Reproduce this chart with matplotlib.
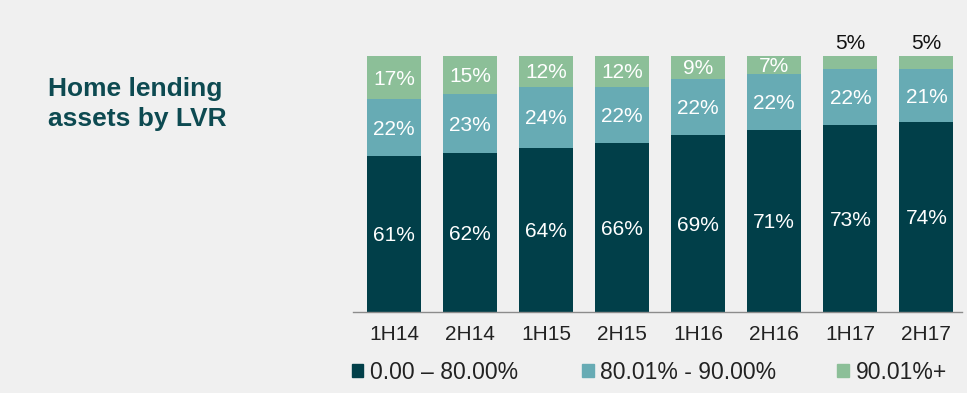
import matplotlib.pyplot as plt
from matplotlib.patches import Rectangle
import numpy as np

periods = ['1H14', '2H14', '1H15', '2H15', '1H16', '2H16', '1H17', '2H17']
lvr_0_80 = [61, 62, 64, 66, 69, 71, 73, 74]
lvr_80_90 = [22, 23, 24, 22, 22, 22, 22, 21]
lvr_90_plus = [17, 15, 12, 12, 9, 7, 5, 5]
series_names = ['0.00 \u2013 80.00%', '80.01% - 90.00%', '90.01%+']

BG = '#f0f0f0'
COLORS = ['#013f49', '#67abb4', '#8cbf98']
LEGEND_X = [0.364, 0.602, 0.866]   # left edge of each legend entry (fig fraction)
plt.rcParams['font.family'] = ['Liberation Sans', 'DejaVu Sans']

fig = plt.figure(figsize=(9.67, 3.93), dpi=100, facecolor=BG)
ax = fig.add_axes([0.365, 0.206, 0.630, 0.652], facecolor=BG)

x = np.arange(len(periods))
width = 0.71
bottom = np.zeros(len(periods))
for vals, col in zip([lvr_0_80, lvr_80_90, lvr_90_plus], COLORS):
    vals = np.array(vals)
    ax.bar(x, vals, width, bottom=bottom, color=col, edgecolor='none')
    for i in range(len(periods)):
        if vals[i] >= 7:
            ax.text(x[i], bottom[i] + vals[i] / 2.0 - 0.6, '%d%%' % vals[i],
                    ha='center', va='center', color='white', fontsize=15)
        else:
            # small slices get their label above the bar
            ax.text(x[i], bottom[i] + vals[i] + 1.2, '%d%%' % vals[i],
                    ha='center', va='bottom', color='#111111', fontsize=15)
    bottom += vals

ax.set_xlim(-0.54, 7.47)
ax.set_ylim(0, 100)
ax.set_yticks([])
ax.set_xticks(x)
ax.set_xticklabels(periods, fontsize=15, color='#222222')
ax.tick_params(axis='x', length=0, pad=9)
for s in ['top', 'right', 'left']:
    ax.spines[s].set_visible(False)
ax.spines['bottom'].set_color('#8c8c8c')
ax.spines['bottom'].set_linewidth(1.0)

for name, col, lx in zip(series_names, COLORS, LEGEND_X):
    leg = fig.legend([Rectangle((0, 0), 1, 1, color=col)], [name],
                     loc='center left', bbox_to_anchor=(lx, 0.053),
                     frameon=False, fontsize=16.5, handlelength=0.5,
                     handleheight=0.5, handletextpad=0.3, borderaxespad=0,
                     borderpad=0)
    for t in leg.get_texts():
        t.set_color('#222222')

fig.text(0.05, 0.803, 'Home lending\nassets by LVR', fontsize=19,
         fontweight='bold', color='#0d4a51', ha='left', va='top',
         linespacing=1.28)

fig.savefig('out.png', dpi=100, facecolor=BG)
